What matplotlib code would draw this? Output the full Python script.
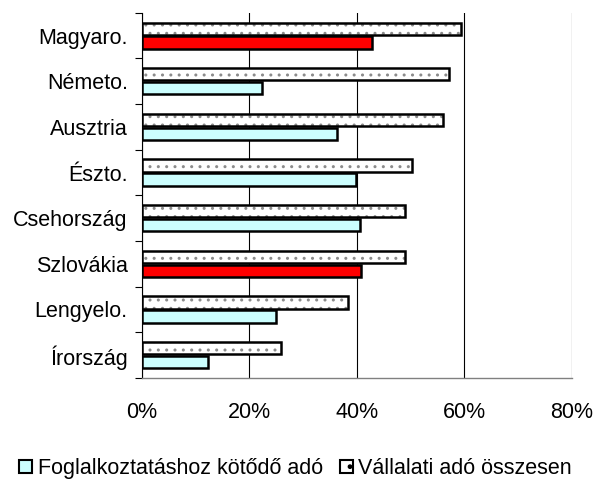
"""Employment-related tax vs total corporate tax, by country (horizontal bars)."""

import matplotlib

matplotlib.use("Agg")
import matplotlib.patches as mpatches
import matplotlib.pyplot as plt
import numpy as np
from matplotlib.ticker import FixedLocator, PercentFormatter

plt.rcParams.update({
    "font.family": ["Liberation Sans", "DejaVu Sans"],
    "font.size": 15.5,
    "hatch.linewidth": 1.0,
})

# data, top to bottom as in the chart
countries = ["Magyaro.", "Németo.", "Ausztria", "Észto.", "Csehország",
             "Szlovákia", "Lengyelo.", "Írország"]
employment_tax = [42.9, 22.3, 36.3, 39.8, 40.6, 40.8, 25.0, 12.4]
corporate_total = [59.4, 57.2, 56.1, 50.3, 49.0, 49.0, 38.4, 25.9]
highlight = ["Magyaro.", "Szlovákia"]

CYAN = "#CCFFFF"
RED = "#FF0000"


def main():
    fig = plt.figure(figsize=(5.95, 4.79), dpi=100)
    ax = fig.add_axes([0.2381, 0.2109, 0.9613 - 0.2381, 0.9735 - 0.2109])

    y = np.arange(len(countries))
    h = 0.27
    off = 0.15

    # total corporate tax: dotted fill, drawn in two passes so the dots stay grey
    ax.barh(y - off, corporate_total, h, color="white", edgecolor="#8c8c8c",
            linewidth=0, hatch="..", zorder=3)
    ax.barh(y - off, corporate_total, h, facecolor="none", edgecolor="black",
            linewidth=1.8, zorder=4)

    colors = [RED if c in highlight else CYAN for c in countries]
    ax.barh(y + off, employment_tax, h, color=colors, edgecolor="black",
            linewidth=1.8, zorder=4)

    ax.set_xlim(0, 80)
    ax.set_ylim(len(countries) - 0.5, -0.5)
    ax.set_xticks([0, 20, 40, 60, 80])
    ax.xaxis.set_major_formatter(PercentFormatter(decimals=0))
    ax.tick_params(axis="x", length=0, pad=17)
    ax.grid(True, axis="x", color="black", linewidth=0.8, zorder=1)

    ax.set_yticks(y)
    ax.set_yticklabels(countries)
    ax.yaxis.set_minor_locator(FixedLocator(np.arange(len(countries) + 1) - 0.5))
    ax.tick_params(axis="y", which="major", length=0, pad=10)
    ax.tick_params(axis="y", which="minor", length=5, width=0.8, color="black")

    for side in ["top", "right"]:
        ax.spines[side].set_visible(False)
    ax.spines["left"].set_color("black")
    ax.spines["left"].set_linewidth(0.8)
    ax.spines["bottom"].set_color("#808080")
    ax.spines["bottom"].set_linewidth(1.0)

    handles = [
        mpatches.Patch(facecolor=CYAN, edgecolor="black", linewidth=1.5),
        mpatches.Patch(facecolor="white", edgecolor="black", linewidth=1.5, hatch="."),
    ]
    fig.legend(handles, ["Foglalkoztatáshoz kötődő adó", "Vállalati adó összesen"],
               loc="center", bbox_to_anchor=(0.497, 0.022), ncol=2, frameon=False,
               handlelength=0.6, handleheight=0.6, handletextpad=0.25,
               columnspacing=0.8, borderpad=0, borderaxespad=0)

    fig.savefig("out.png", dpi=100)
    plt.close(fig)


if __name__ == "__main__":
    main()
